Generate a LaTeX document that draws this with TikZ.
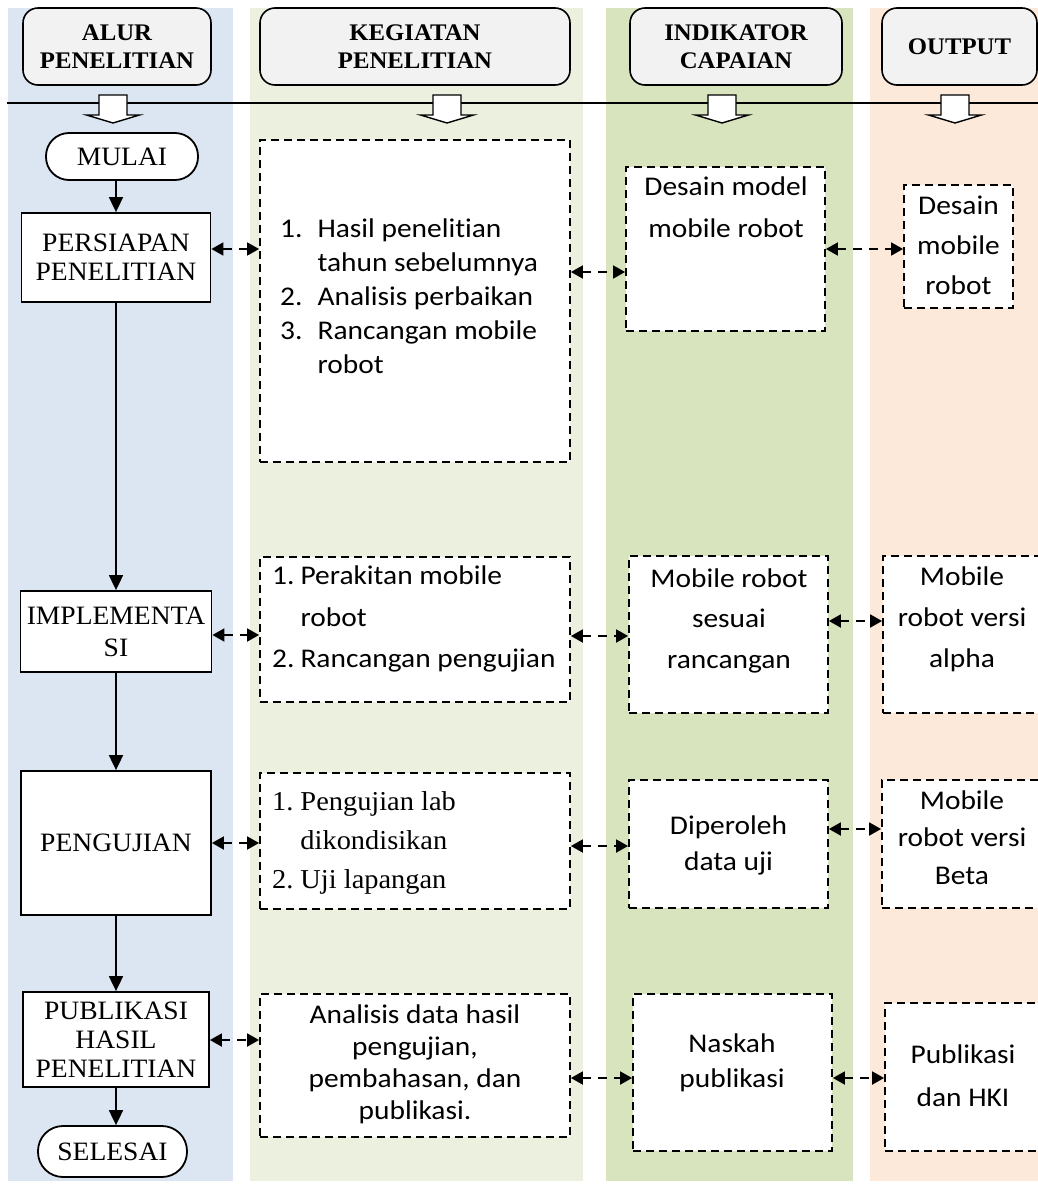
\documentclass[tikz,border=0pt]{standalone}
\usepackage{fontspec}
\setmainfont{Liberation Serif}[FakeStretch=1.04]
\newfontfamily\calibri{Carlito}[FakeStretch=1.09, Ligatures=NoCommon]
\usetikzlibrary{arrows.meta,positioning}
\definecolor{klbiru}  {HTML}{DCE6F2}
\definecolor{klhijau} {HTML}{EBF1DE}
\definecolor{kltua}   {HTML}{D7E4BD}
\definecolor{kloranye}{HTML}{FDE9D9}
\definecolor{klkepala}{HTML}{F2F2F2}
\newcommand{\panahblok}[1]{%
  \filldraw[fill=white, draw=black, line width=1.4pt]
    (#1-14,95) -- (#1+14,95) -- (#1+14,115) -- (#1+26.5,115) -- (#1,123)
    -- (#1-26.5,115) -- (#1-14,115) -- cycle;}
\newcommand{\isifont}[1]{\calibri\fontsize{27}{#1}\selectfont}
\tikzset{
  kepala/.style={draw, line width=1.6pt, rounded corners=15pt, fill=klkepala,
    font=\bfseries\fontsize{23.8}{28}\selectfont, align=center, inner sep=0pt},
  langkah/.style={draw, line width=1.8pt, fill=white, align=center, inner sep=0pt,
    font=\fontsize{26.5}{29}\selectfont},
  ujung/.style={langkah, rounded corners=23pt},
  kotak/.style={draw, line width=1.8pt, dash pattern=on 8pt off 5pt, fill=white, inner sep=0pt},
  teks/.style={inner sep=0pt},
  alir/.style={line width=1.8pt, -{Triangle[length=15pt,width=14pt]}},
  dua/.style={line width=1.8pt, dash pattern=on 9pt off 7pt,
    {Triangle[length=12pt,width=13pt]}-{Triangle[length=12pt,width=13pt]}},
}
\begin{document}
\begin{tikzpicture}[x=1pt, y=-1pt]
\useasboundingbox (0,0) rectangle (1038,1189);
\clip (0,0) rectangle (1038,1189);
% kolom latar
\fill[klbiru]   (8,8) rectangle (233,1181);
\fill[klhijau]  (250,8) rectangle (583,1181);
\fill[kltua]    (606,8) rectangle (853,1181);
\fill[kloranye] (870,8) rectangle (1038,1181);

% judul kolom
\node[kepala, minimum width=188pt, minimum height=77pt] (hAlur) at (117,46.5) {ALUR\\PENELITIAN};
\node[kepala, minimum width=310pt, minimum height=77pt] (hKegiatan) at (415,46.5) {KEGIATAN\\PENELITIAN};
\node[kepala, minimum width=212pt, minimum height=77pt] (hIndikator) at (736,46.5) {INDIKATOR\\CAPAIAN};
\node[kepala, minimum width=155pt, minimum height=77pt] (hOutput) at (959.5,46.5) {OUTPUT};
\draw[line width=1.4pt] (7,103) -- (1038,103);
\panahblok{113}
\panahblok{447}
\panahblok{722}
\panahblok{955}

% alur penelitian
\node[ujung, minimum width=152pt, minimum height=47pt] (mulai) at (122,156.5) {MULAI};
\node[langkah, minimum width=189pt, minimum height=89pt] (persiapan) at (116,257.5) {PERSIAPAN\\PENELITIAN};
\node[langkah, minimum width=191pt, minimum height=81pt, font=\fontsize{26.5}{32}\selectfont] (implementasi) at (116,631.5) {IMPLEMENTA\\SI};
\node[langkah, minimum width=190pt, minimum height=144pt] (pengujian) at (116,843) {PENGUJIAN};
\node[langkah, minimum width=186pt, minimum height=95pt] (publikasi) at (116,1039.5) {PUBLIKASI\\HASIL\\PENELITIAN};
\node[ujung, minimum width=149pt, minimum height=51pt, rounded corners=25pt] (selesai) at (112.5,1151.5) {SELESAI};
\draw[alir] (mulai.south -| persiapan.north) -- (persiapan.north);
\draw[alir] (persiapan.south) -- (implementasi.north);
\draw[alir] (implementasi.south) -- (pengujian.north);
\draw[alir] (pengujian.south) -- (publikasi.north);
\draw[alir] (publikasi.south) -- (publikasi.south |- selesai.north);

% kegiatan penelitian
\node[kotak, minimum width=310pt, minimum height=322pt] (k1) at (415,301) {};
\node[teks, anchor=west] (k1teks) at (280,298.2) {\isifont{34}\begin{tabular}{@{}l@{\hspace{15pt}}l@{}}1. & Hasil penelitian\\ & tahun sebelumnya\\ 2. & Analisis perbaikan\\ 3. & Rancangan mobile\\ & robot\end{tabular}};
\node[kotak, minimum width=310pt, minimum height=145pt] (k2) at (415,629.5) {};
\node[teks, anchor=west] (k2teks) at (272,618) {\isifont{41.5}\begin{tabular}{@{}l@{\hspace{6pt}}l@{}}1. & Perakitan mobile\\ & robot\\ 2. & Rancangan pengujian\end{tabular}};
\node[kotak, minimum width=310pt, minimum height=136pt] (k3) at (415,841) {};
\node[teks, anchor=west] (k3teks) at (272,841.2) {\fontsize{27.3}{39}\selectfont\begin{tabular}{@{}l@{\hspace{7pt}}l@{}}1. & Pengujian lab\\ & dikondisikan\\ 2. & Uji lapangan\end{tabular}};
\node[kotak, minimum width=310pt, minimum height=143pt] (k4) at (415,1065.5) {};
\node[teks] (k4teks) at (415,1065) {\isifont{32.3}\begin{tabular}{@{}c@{}}Analisis data hasil\\ pengujian,\\ pembahasan, dan\\ publikasi.\end{tabular}};

% indikator capaian
\node[kotak, minimum width=199pt, minimum height=164pt] (i1) at (725.5,249) {};
\node[teks] (i1teks) at (726,207.6) {\isifont{42}\begin{tabular}{@{}c@{}}Desain model\\ mobile robot\end{tabular}};
\node[kotak, minimum width=199pt, minimum height=157pt] (i2) at (728.5,634.5) {};
\node[teks] (i2teks) at (729,619.4) {\isifont{40.5}\begin{tabular}{@{}c@{}}Mobile robot\\ sesuai\\ rancangan\end{tabular}};
\node[kotak, minimum width=199pt, minimum height=128pt] (i3) at (728.5,844) {};
\node[teks] (i3teks) at (728.5,844.8) {\isifont{36}\begin{tabular}{@{}c@{}}Diperoleh\\ data uji\end{tabular}};
\node[kotak, minimum width=199pt, minimum height=157pt] (i4) at (732.5,1072.5) {};
\node[teks] (i4teks) at (732,1062.5) {\isifont{35}\begin{tabular}{@{}c@{}}Naskah\\ publikasi\end{tabular}};

% output
\node[kotak, minimum width=109pt, minimum height=123pt] (o1) at (958.5,246.5) {};
\node[teks] (o1teks) at (958.5,246) {\isifont{40}\begin{tabular}{@{}c@{}}Desain\\ mobile\\ robot\end{tabular}};
\node[kotak, minimum width=170pt, minimum height=157pt] (o2) at (968,634.5) {};
\node[teks] (o2teks) at (962,617.8) {\isifont{41}\begin{tabular}{@{}c@{}}Mobile\\ robot versi\\ alpha\end{tabular}};
\node[kotak, minimum width=170pt, minimum height=128pt] (o3) at (967,844) {};
\node[teks] (o3teks) at (962,839) {\isifont{37.5}\begin{tabular}{@{}c@{}}Mobile\\ robot versi\\ Beta\end{tabular}};
\node[kotak, minimum width=170pt, minimum height=148pt] (o4) at (970,1077) {};
\node[teks] (o4teks) at (963,1075.9) {\isifont{43}\begin{tabular}{@{}c@{}}Publikasi\\ dan HKI\end{tabular}};

% panah dua arah
\draw[dua] (persiapan.east |- 0,249) -- (k1.west |- 0,249);
\draw[dua] (k1.east |- 0,272) -- (i1.west |- 0,272);
\draw[dua] (i1.east |- 0,249) -- (o1.west |- 0,249);
\draw[dua] (implementasi.east |- 0,635) -- (k2.west |- 0,635);
\draw[dua] (k2.east |- 0,636) -- (i2.west |- 0,636);
\draw[dua] (i2.east |- 0,621) -- (o2.west |- 0,621);
\draw[dua] (pengujian.east |- 0,843) -- (k3.west |- 0,843);
\draw[dua] (k3.east |- 0,846) -- (i3.west |- 0,846);
\draw[dua] (i3.east |- 0,829) -- (o3.west |- 0,829);
\draw[dua] (publikasi.east |- 0,1040) -- (k4.west |- 0,1040);
\draw[dua] (k4.east |- 0,1078) -- (i4.west |- 0,1078);
\draw[dua] (i4.east |- 0,1078) -- (o4.west |- 0,1078);
\end{tikzpicture}
\end{document}
